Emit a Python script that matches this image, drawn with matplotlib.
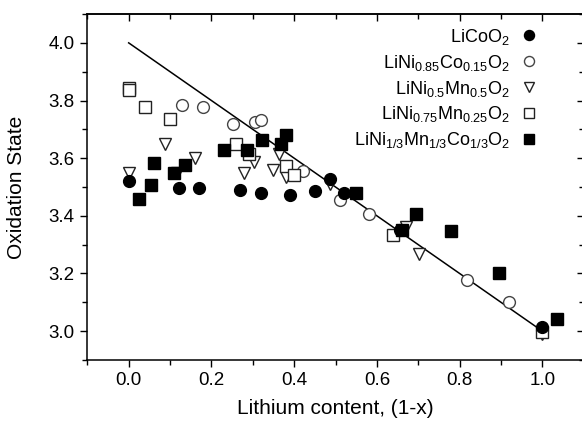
import matplotlib
matplotlib.use("Agg")
import matplotlib.pyplot as plt
from matplotlib.ticker import MultipleLocator, NullFormatter

plt.rcParams['font.family'] = ['Liberation Sans', 'DejaVu Sans']
plt.rcParams['mathtext.default'] = 'regular'

# Oxidation state vs lithium content for several layered oxides
licoo2_x = [0.0, 0.121, 0.170, 0.270, 0.321, 0.391, 0.451, 0.486, 0.520, 0.655, 1.0]
licoo2_y = [3.521, 3.495, 3.497, 3.489, 3.478, 3.472, 3.487, 3.527, 3.478, 3.352, 3.013]

nca_x = [0.130, 0.180, 0.251, 0.306, 0.321, 0.421, 0.510, 0.581, 0.819, 0.919, 1.0]
nca_y = [3.786, 3.776, 3.717, 3.724, 3.734, 3.555, 3.454, 3.405, 3.177, 3.100, 3.005]

nm55_x = [0.0, 0.088, 0.118, 0.160, 0.278, 0.303, 0.350, 0.363, 0.381, 0.486, 0.671, 0.701, 1.0]
nm55_y = [3.550, 3.649, 3.547, 3.601, 3.547, 3.585, 3.558, 3.616, 3.535, 3.512, 3.360, 3.267, 2.990]

nm7525_x = [0.0, 0.0, 0.040, 0.100, 0.260, 0.291, 0.381, 0.400, 0.639, 1.0]
nm7525_y = [3.845, 3.835, 3.776, 3.735, 3.648, 3.613, 3.573, 3.541, 3.335, 2.998]

nmc_x = [0.025, 0.055, 0.061, 0.110, 0.135, 0.231, 0.286, 0.323, 0.367, 0.381,
         0.550, 0.661, 0.694, 0.780, 0.895, 1.035]
nmc_y = [3.460, 3.506, 3.582, 3.549, 3.577, 3.628, 3.628, 3.663, 3.648, 3.682,
         3.478, 3.350, 3.405, 3.348, 3.200, 3.042]

# Ideal linear relation: Co/Ni oxidation state from 4 (x=1) to 3 (fully lithiated)
ideal_x = [0.0, 1.0]
ideal_y = [4.0, 3.0]

labels = [r'LiCoO$_2$',
          r'LiNi$_{0.85}$Co$_{0.15}$O$_2$',
          r'LiNi$_{0.5}$Mn$_{0.5}$O$_2$',
          r'LiNi$_{0.75}$Mn$_{0.25}$O$_2$',
          r'LiNi$_{1/3}$Mn$_{1/3}$Co$_{1/3}$O$_2$']

fig = plt.figure(figsize=(5.82, 4.25), dpi=100)
ax = fig.add_axes([0.150, 0.153, 0.853, 0.814])

ax.plot(ideal_x, ideal_y, color='black', lw=1.1, zorder=1)

ms = 8.5
ax.plot(licoo2_x, licoo2_y, 'o', ms=ms, mfc='black', mec='black', ls='none', label=labels[0], zorder=3)
ax.plot(nca_x, nca_y, 'o', ms=ms, mfc='white', mec='#444444', mew=1.0, ls='none', label=labels[1], zorder=2)
ax.plot(nm55_x, nm55_y, 'v', ms=ms + 0.5, mfc='white', mec='#222222', mew=1.0, ls='none', label=labels[2], zorder=2)
ax.plot(nm7525_x, nm7525_y, 's', ms=ms - 0.5, mfc='white', mec='#222222', mew=1.0, ls='none', label=labels[3], zorder=2)
ax.plot(nmc_x, nmc_y, 's', ms=ms - 0.5, mfc='black', mec='black', ls='none', label=labels[4], zorder=2)

ax.set_xlim(-0.1, 1.1)
ax.set_ylim(2.9, 4.1)

ax.xaxis.set_major_locator(MultipleLocator(0.2))
ax.xaxis.set_minor_locator(MultipleLocator(0.1))
ax.yaxis.set_major_locator(MultipleLocator(0.2))
ax.yaxis.set_minor_locator(MultipleLocator(0.1))
ax.xaxis.set_major_formatter(plt.FuncFormatter(lambda v, p: f'{v:.1f}'))
ax.yaxis.set_major_formatter(plt.FuncFormatter(lambda v, p: f'{v:.1f}'))

ax.tick_params(which='both', direction='out', labelsize=13.5, width=1.0,
               top=False, right=False, pad=4)
ax.tick_params(which='major', length=5)
ax.tick_params(which='minor', length=3.5)

# mirrored inward ticks on the top and right edges
secx = ax.secondary_xaxis('top')
secx.xaxis.set_major_locator(MultipleLocator(0.2))
secx.xaxis.set_minor_locator(MultipleLocator(0.1))
secx.xaxis.set_major_formatter(NullFormatter())
secx.tick_params(which='both', direction='in', width=1.0)
secx.tick_params(which='major', length=5)
secx.tick_params(which='minor', length=3.5)

secy = ax.secondary_yaxis('right')
secy.yaxis.set_major_locator(MultipleLocator(0.2))
secy.yaxis.set_minor_locator(MultipleLocator(0.1))
secy.yaxis.set_major_formatter(NullFormatter())
secy.tick_params(which='both', direction='in', width=1.0)
secy.tick_params(which='major', length=5)
secy.tick_params(which='minor', length=3.5)

for sp in list(ax.spines.values()) + [secx.spines['top'], secy.spines['right']]:
    sp.set_linewidth(1.1)

ax.set_xlabel('Lithium content, (1-x)', fontsize=15, labelpad=7)
ax.set_ylabel('Oxidation State', fontsize=15, labelpad=16)

leg = ax.legend(loc='upper right', bbox_to_anchor=(0.926, 0.995), frameon=False,
                markerfirst=False, fontsize=13, labelspacing=0.33, handlelength=0.8,
                handletextpad=0.65, markerscale=0.85, borderaxespad=0.2)
for t in leg.get_texts():
    t.set_ha('right')

fig.savefig('out.png', dpi=100)
